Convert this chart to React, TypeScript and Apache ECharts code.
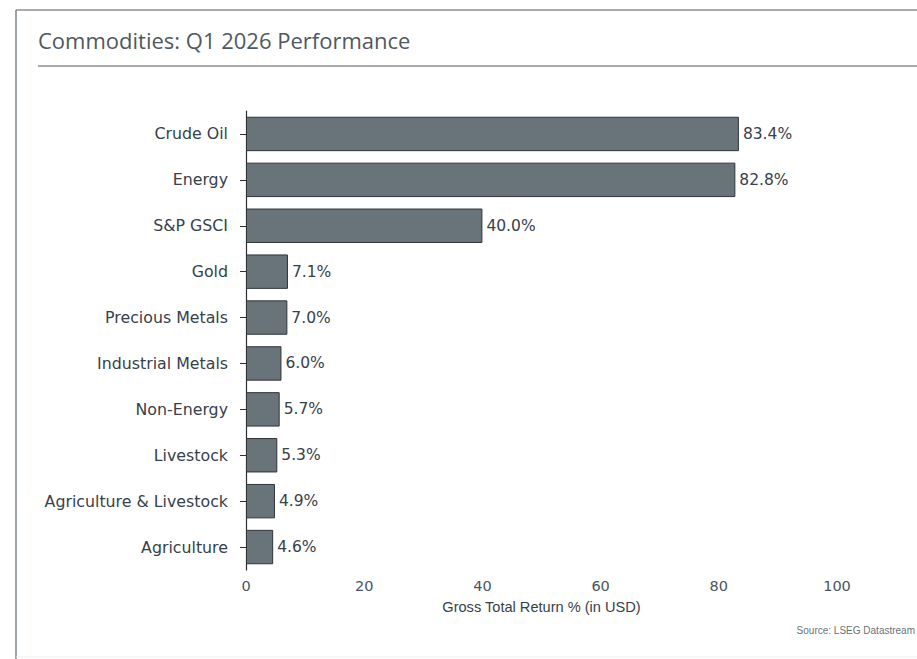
import React, { useEffect, useRef } from "react";
import * as echarts from "echarts";

const categories = [
  "Crude Oil",
  "Energy",
  "S&P GSCI",
  "Gold",
  "Precious Metals",
  "Industrial Metals",
  "Non-Energy",
  "Livestock",
  "Agriculture & Livestock",
  "Agriculture",
];
const values = [83.4, 82.8, 40.0, 7.1, 7.0, 6.0, 5.7, 5.3, 4.9, 4.6];
const xTicks = [0, 20, 40, 60, 80, 100];
const titleText = "Commodities: Q1 2026 Performance";
const xAxisName = "Gross Total Return % (in USD)";
const sourceText = "Source: LSEG Datastream";

export default function App() {
  const ref = useRef<HTMLDivElement>(null);
  useEffect(() => {
    if (!ref.current) return;
    const chart = echarts.init(ref.current, null, { renderer: "svg" });
    const textColor = "#36414b";
    const wide = "'DejaVu Sans', 'Liberation Sans', sans-serif";
    chart.setOption({
      animation: false,
      backgroundColor: "#ffffff",
      grid: { left: 246, right: 80, top: 111, height: 459, containLabel: false },
      xAxis: {
        type: "value",
        min: xTicks[0],
        max: xTicks[xTicks.length - 1],
        interval: 20,
        axisLine: { show: false },
        axisTick: { show: false },
        splitLine: { show: false },
        axisLabel: {
          color: "#4a5560",
          fontFamily: wide,
          fontSize: 14.5,
          margin: 8,
        },
        name: xAxisName,
        nameLocation: "middle",
        nameGap: 29,
        nameTextStyle: {
          color: textColor,
          fontFamily: "'Liberation Sans', sans-serif",
          fontSize: 14.6,
        },
      },
      yAxis: {
        type: "category",
        data: categories,
        inverse: true,
        axisLine: { show: true, lineStyle: { color: "#2b2f33", width: 1.2 } },
        axisTick: { show: true, alignWithLabel: true, length: 6, lineStyle: { color: "#2b2f33" } },
        axisLabel: {
          color: textColor,
          fontFamily: wide,
          fontSize: 15.8,
          margin: 18,
        },
      },
      series: [
        {
          type: "bar",
          data: values,
          barCategoryGap: "25%",
          itemStyle: { color: "#68737a", borderColor: "#2f3538", borderWidth: 1 },
          label: {
            show: true,
            position: "right",
            distance: 4,
            formatter: (p: any) => p.value.toFixed(1) + "%",
            color: textColor,
            fontFamily: wide,
            fontSize: 15.5,
          },
        },
      ],
      graphic: [
        { type: "line", shape: { x1: 16, y1: 10, x2: 917, y2: 10 }, style: { stroke: "#8a8f94", lineWidth: 1.5 } },
        { type: "line", shape: { x1: 16, y1: 10, x2: 16, y2: 659 }, style: { stroke: "#7d8389", lineWidth: 1.5 } },
        { type: "line", shape: { x1: 16, y1: 657, x2: 917, y2: 657 }, style: { stroke: "#eeeeee", lineWidth: 1 } },
        {
          type: "text",
          left: 38,
          top: 29,
          style: { text: titleText, fill: "#4f5963", font: "22px 'Open Sans'" },
        },
        { type: "line", shape: { x1: 38, y1: 66, x2: 917, y2: 66 }, style: { stroke: "#4f5963", lineWidth: 1 } },
        {
          type: "text",
          right: 2,
          top: 625,
          style: { text: sourceText, fill: "#6a7178", font: "10px 'Liberation Sans'" },
        },
      ],
    });
    return () => chart.dispose();
  }, []);
  return <div ref={ref} style={{ position: "fixed", left: 0, top: 0, width: 917, height: 659 }} />;
}
